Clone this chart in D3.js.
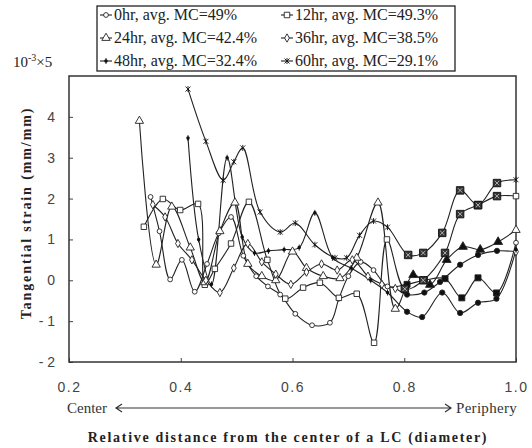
<!DOCTYPE html>
<html>
<head>
<meta charset="utf-8">
<script src="https://cdn.jsdelivr.net/npm/d3@7"></script>
<style>
  body { margin: 0; background: #fff; }
  svg { display: block; font-family: "Liberation Serif", "DejaVu Serif", serif; }
</style>
</head>
<body>
<div id="chart"></div>
<script>
const WIDTH = 532, HEIGHT = 448;
const MARGIN = { TOP: 76, LEFT: 69, RIGHT: 16, BOTTOM: 86 };
const W = WIDTH - MARGIN.LEFT - MARGIN.RIGHT;
const H = HEIGHT - MARGIN.TOP - MARGIN.BOTTOM;

// data (x = relative distance, y = strain in units of 5e-3)
const labels = ['0hr, avg. MC=49%', '12hr, avg. MC=49.3%', '24hr, avg. MC=42.4%',
                '36hr, avg. MC=38.5%', '48hr, avg. MC=32.4%', '60hr, avg. MC=29.1%'];

const x0 = [0.346,0.362,0.381,0.402,0.425,0.447,0.468,0.49,0.512,0.535,0.556,0.578,0.605,0.635,0.667,0.683,0.70,0.722,0.745,0.77,0.805,0.836,0.873,0.903,0.932,0.965,1.0];
const v0 = [2.04,1.2,0.02,0.5,-0.28,0.4,1.15,1.55,0.6,0.1,-0.15,-0.35,-0.82,-1.1,-1.04,-0.45,0.1,0.45,0.25,-0.15,-0.1,0.0,0.04,-0.43,0.06,-0.31,0.92];

const x12 = [0.334,0.368,0.399,0.431,0.443,0.461,0.49,0.522,0.555,0.587,0.619,0.649,0.683,0.715,0.746,0.769,0.801,0.834,0.873,0.9,0.932,0.966,1.0];
const v12 = [1.31,1.99,1.72,1.87,-0.11,0.28,0.9,1.92,0.5,-0.45,-0.18,-0.06,-0.43,-0.33,-1.53,1.0,-0.21,0.0,0.67,1.62,1.84,2.06,2.06];

const x24 = [0.326,0.356,0.384,0.417,0.443,0.47,0.497,0.52,0.545,0.57,0.6,0.625,0.655,0.685,0.715,0.753,0.784,0.816,0.846,0.876,0.905,0.936,0.968,1.0];
const v24 = [3.9,0.38,1.8,0.8,-0.05,1.2,1.9,0.4,0.1,0.0,0.7,0.3,0.1,0.05,0.55,1.9,-0.7,0.13,-0.11,0.5,0.82,0.75,0.94,1.23];

const x36 = [0.35,0.372,0.395,0.42,0.445,0.47,0.495,0.52,0.545,0.57,0.597,0.625,0.652,0.68,0.707,0.735,0.76,0.784,0.805,0.836,0.864,0.9,0.932,0.966,1.0];
const v36 = [1.85,1.55,0.9,0.5,0.0,-0.3,0.3,0.9,0.45,0.15,-0.1,0.2,0.4,0.25,0.5,0.1,-0.1,-0.2,-0.35,-0.3,-0.04,0.38,0.62,0.72,0.7];

const x48 = [0.413,0.432,0.455,0.483,0.51,0.532,0.557,0.585,0.612,0.64,0.672,0.705,0.74,0.77,0.805,0.832,0.868,0.9,0.932,0.965,1.0];
const v48 = [3.48,1.0,-0.1,3.0,1.06,0.67,0.72,0.75,0.8,1.65,0.55,0.3,0.0,-0.3,-0.77,-0.9,-0.3,-0.8,-0.55,-0.45,0.75];

const x60 = [0.413,0.445,0.476,0.495,0.511,0.542,0.578,0.605,0.64,0.676,0.697,0.72,0.745,0.77,0.807,0.834,0.868,0.9,0.932,0.966,1.0];
const v60 = [4.68,3.4,2.45,2.9,3.24,1.67,1.18,1.4,0.87,0.55,0.55,1.1,1.45,1.3,0.62,0.67,1.16,2.2,1.84,2.38,2.46];

const xTicks = [0.2, 0.4, 0.6, 0.8, 1.0];
const yTicks = [-2, -1, 0, 1, 2, 3, 4];

const series = [
  { name: labels[0], xs: x0,  vs: v0,  shape: 'circle',   peri: 'square' },
  { name: labels[1], xs: x12, vs: v12, shape: 'square',   peri: 'xsquare' },
  { name: labels[2], xs: x24, vs: v24, shape: 'triangle', peri: 'triangle' },
  { name: labels[3], xs: x36, vs: v36, shape: 'diamond',  peri: 'circle' },
  { name: labels[4], xs: x48, vs: v48, shape: 'dot',      peri: 'circle' },
  { name: labels[5], xs: x60, vs: v60, shape: 'star',     peri: 'xsquare' }
];

const svg = d3.select('#chart').append('svg')
    .attr('width', WIDTH)
    .attr('height', HEIGHT);

const g = svg.append('g')
    .attr('transform', `translate(${MARGIN.LEFT}, ${MARGIN.TOP})`);

const x = d3.scaleLinear().domain([0.2, 1.0]).range([0, W]);
const y = d3.scaleLinear().domain([-2, 5]).range([H, 0]);

// axes with inward ticks
const xAxis = g.append('g')
    .attr('transform', `translate(0, ${H})`)
    .call(d3.axisBottom(x).tickValues(xTicks).tickSize(-4).tickSizeOuter(0).tickPadding(20)
      .tickFormat(d3.format('.1f')));
const yAxis = g.append('g')
    .call(d3.axisLeft(y).tickValues(yTicks).tickSize(-4).tickSizeOuter(0).tickPadding(14)
      .tickFormat(d => d < 0 ? '- ' + Math.abs(d) : d));

[xAxis, yAxis].forEach(a => {
  a.select('.domain').remove();
  a.selectAll('line').attr('stroke', '#444');
  a.selectAll('text')
    .attr('font-family', '"Liberation Sans", Arial, sans-serif')
    .attr('font-size', 14)
    .attr('fill', '#444');
});
xAxis.selectAll('text').attr('letter-spacing', 1.5);

// frame
g.append('rect')
    .attr('width', W).attr('height', H)
    .attr('fill', 'none').attr('stroke', '#333').attr('stroke-width', 1.5);

// lines
const line = d3.line()
    .x(d => x(d[0]))
    .y(d => y(d[1]))
    .curve(d3.curveCatmullRom.alpha(0.5));

const plot = g.append('g');
series.forEach(s => {
  const pts = s.xs.map((xv, i) => [xv, s.vs[i]]);
  plot.append('path')
      .datum(pts)
      .attr('fill', 'none')
      .attr('stroke', '#222')
      .attr('stroke-width', 1.1)
      .attr('d', line);
});

function drawMarker(sel, shape, cx, cy, filled) {
  const sg = sel.append('g').attr('transform', `translate(${cx}, ${cy})`);
  const stroke = '#222';
  if (shape === 'circle') {
    sg.append('path').attr('d', d3.symbol(d3.symbolCircle, filled ? 22 : 18)())
      .attr('fill', filled ? '#111' : '#fff').attr('stroke', stroke).attr('stroke-width', 0.9);
  } else if (shape === 'square') {
    sg.append('path').attr('d', d3.symbol(d3.symbolSquare, filled ? 36 : 30)())
      .attr('fill', filled ? '#111' : '#fff').attr('stroke', stroke).attr('stroke-width', 0.9);
  } else if (shape === 'xsquare') {
    sg.append('path').attr('d', d3.symbol(d3.symbolSquare, 56)())
      .attr('fill', '#333').attr('stroke', '#111').attr('stroke-width', 0.9);
    sg.append('path').attr('d', 'M-2.2,-2.2L2.2,2.2M-2.2,2.2L2.2,-2.2')
      .attr('stroke', '#ccc').attr('stroke-width', 0.8);
  } else if (shape === 'triangle') {
    sg.append('path').attr('d', d3.symbol(d3.symbolTriangle, filled ? 34 : 30)())
      .attr('fill', filled ? '#111' : '#fff').attr('stroke', stroke).attr('stroke-width', 0.9);
  } else if (shape === 'diamond') {
    sg.append('path').attr('d', d3.symbol(d3.symbolDiamond, 20)())
      .attr('fill', '#fff').attr('stroke', stroke).attr('stroke-width', 0.9);
  } else if (shape === 'dot') {
    sg.append('path').attr('d', d3.symbol(d3.symbolCircle, 10)()).attr('fill', '#111');
    sg.append('path').attr('d', 'M0,-3L0,3').attr('stroke', '#111').attr('stroke-width', 0.9);
  } else if (shape === 'star') {
    sg.append('path').attr('d', 'M-2.5,-2.5L2.5,2.5M-2.5,2.5L2.5,-2.5M0,-3L0,3')
      .attr('stroke', '#111').attr('stroke-width', 0.9);
  }
}

series.forEach(s => {
  const mg = plot.append('g');
  s.xs.forEach((xv, i) => {
    const peri = xv >= 0.79 && xv < 0.99;
    drawMarker(mg, peri ? s.peri : s.shape, x(xv), y(s.vs[i]), peri);
  });
});

// legend
const leg = svg.append('g');
leg.append('rect')
    .attr('x', 97).attr('y', 6).attr('width', 358).attr('height', 65)
    .attr('fill', '#fff').attr('stroke', '#222').attr('stroke-width', 1.3);
series.forEach((s, i) => {
  const col = i % 2, row = Math.floor(i / 2);
  const lx = col === 0 ? 100 : 281;
  const ly = 15 + row * 23;
  leg.append('line')
      .attr('x1', lx).attr('x2', lx + 12).attr('y1', ly).attr('y2', ly)
      .attr('stroke', '#222').attr('stroke-width', 1.1);
  drawMarker(leg, s.shape, lx + 6, ly, false);
  leg.append('text')
      .attr('x', lx + 14).attr('y', ly + 5)
      .attr('font-size', 16)
      .attr('fill', '#222')
      .text(s.name);
});

// y unit label
const unit = svg.append('text')
    .attr('x', 13).attr('y', 67)
    .attr('font-size', 15).attr('fill', '#222');
unit.append('tspan').text('10');
unit.append('tspan').attr('dy', -6).attr('font-size', 10).text('-3');
unit.append('tspan').attr('dy', 6).text('×5');

// y axis title
svg.append('text')
    .attr('transform', `translate(31, ${MARGIN.TOP + H / 2 - 6}) rotate(-90)`)
    .attr('text-anchor', 'middle')
    .attr('font-size', 14)
    .attr('font-weight', 'bold')
    .attr('letter-spacing', 1.9)
    .attr('fill', '#222')
    .text('Tangential strain (mm/mm)');

// center / periphery arrow
svg.append('text')
    .attr('x', 67).attr('y', 413)
    .attr('font-size', 15).attr('fill', '#333')
    .text('Center');
svg.append('text')
    .attr('x', 517).attr('y', 413)
    .attr('text-anchor', 'end')
    .attr('font-size', 15).attr('letter-spacing', 0.3).attr('fill', '#333')
    .text('Periphery');
svg.append('path')
    .attr('d', 'M116,408L451,408M122,404L116,408L122,412M445,404L451,408L445,412')
    .attr('fill', 'none').attr('stroke', '#333').attr('stroke-width', 1.2);

// x axis title
svg.append('text')
    .attr('x', 288).attr('y', 442)
    .attr('text-anchor', 'middle')
    .attr('font-size', 14)
    .attr('font-weight', 'bold')
    .attr('letter-spacing', 1.7)
    .attr('fill', '#222')
    .text('Relative distance from the center of a LC (diameter)');
</script>
</body>
</html>
